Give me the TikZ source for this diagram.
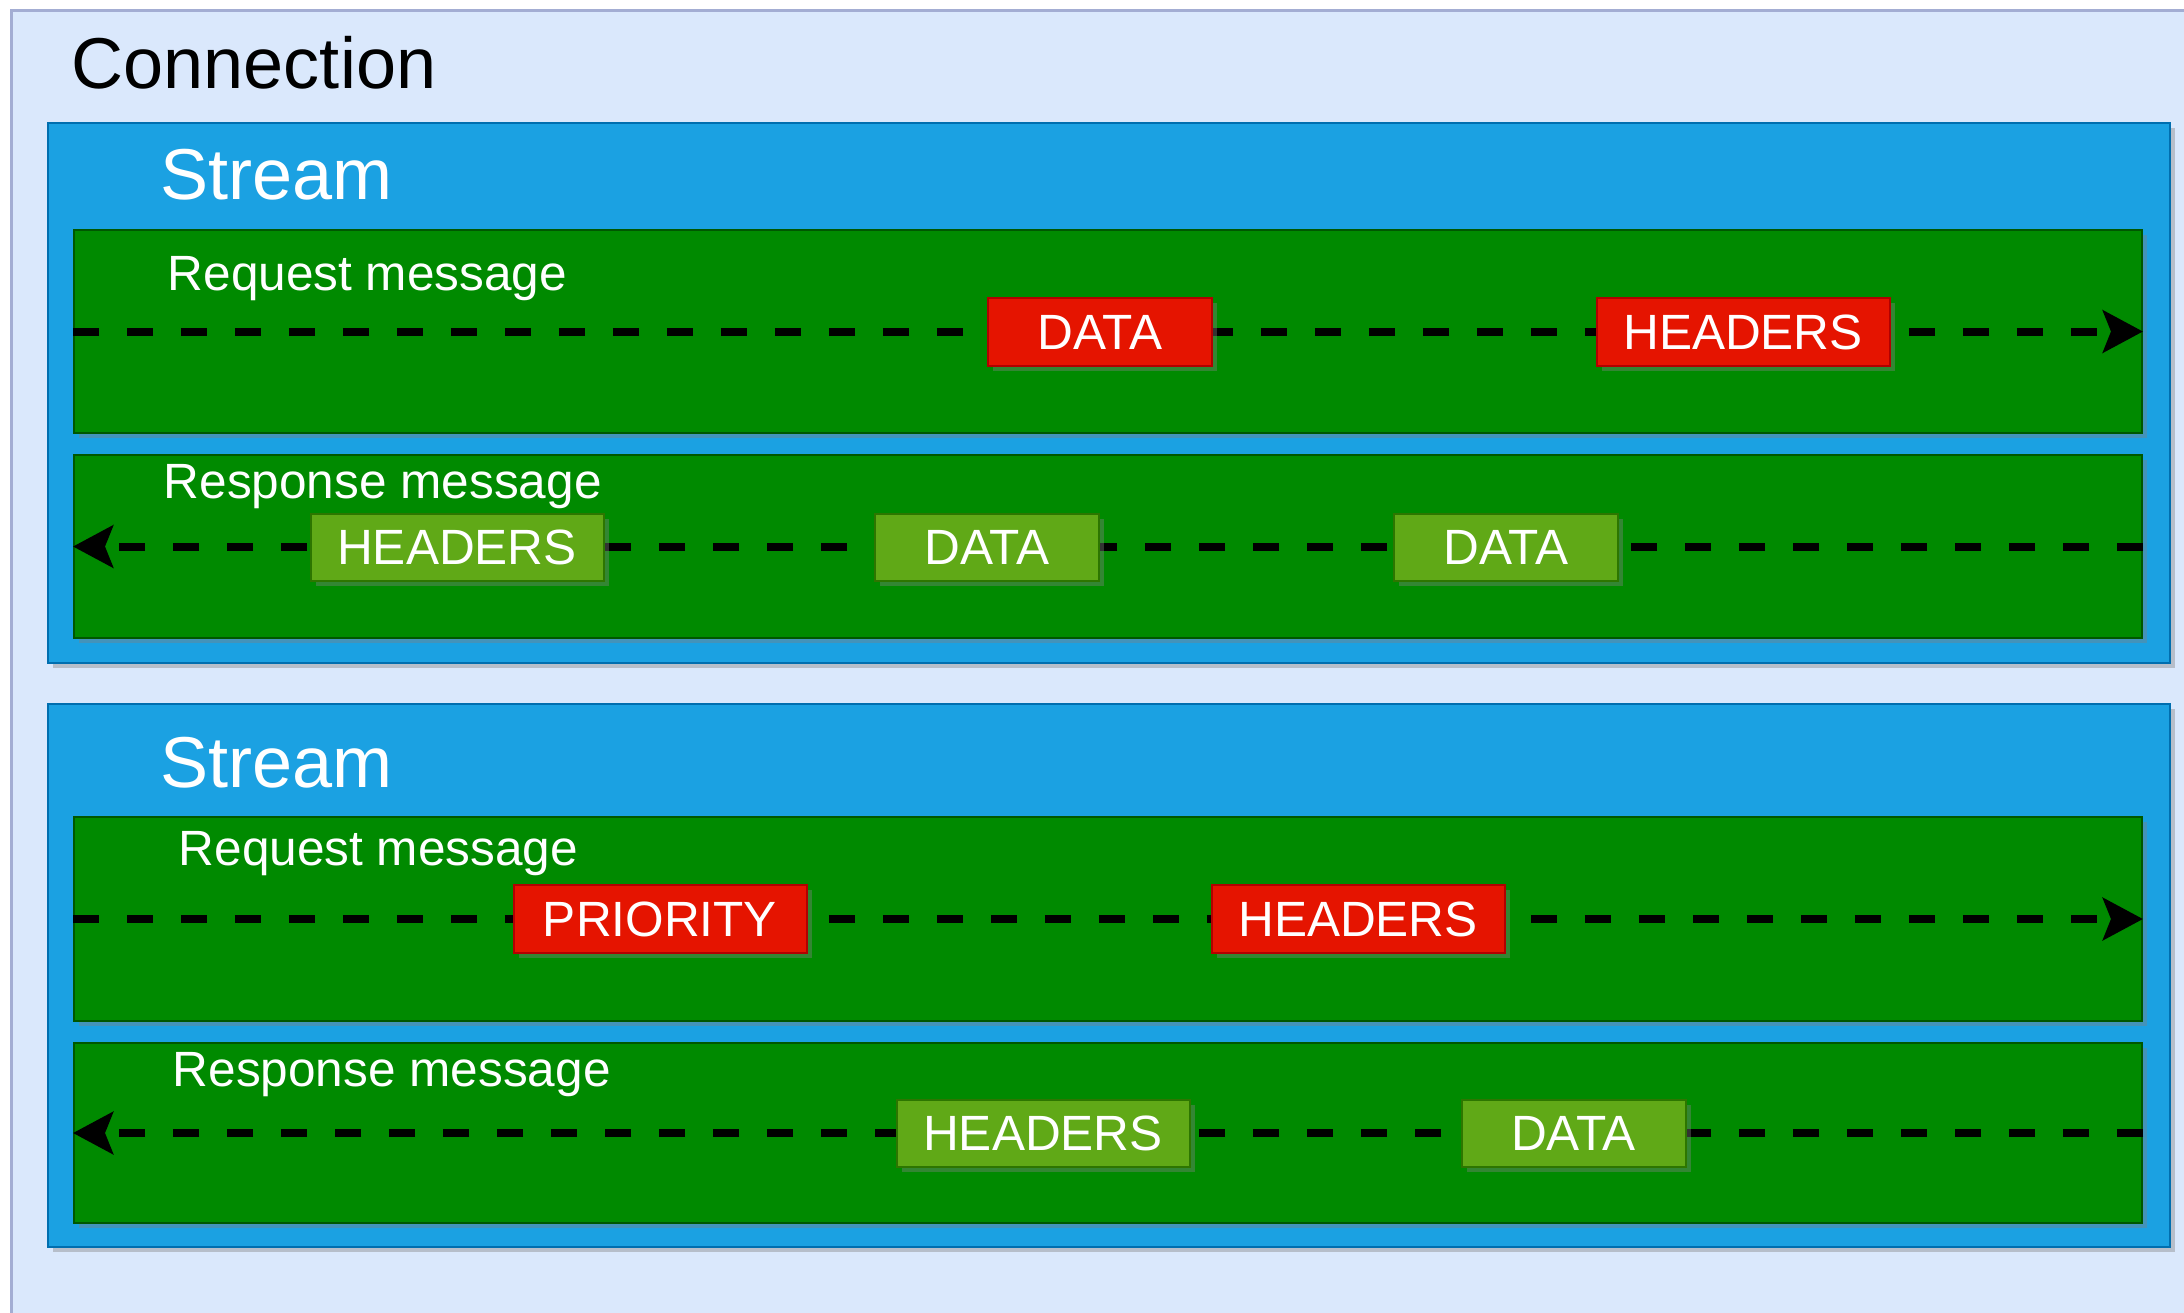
\documentclass[tikz,border=0pt]{standalone}
\usepackage{fontspec}
\setmainfont{Liberation Sans}
\usetikzlibrary{arrows.meta,positioning,shadows}

\definecolor{connfill}{HTML}{DAE8FC}
\definecolor{connline}{HTML}{A3ADD3}
\definecolor{streamfill}{HTML}{1BA1E2}
\definecolor{streamline}{HTML}{006EAF}
\definecolor{msgfill}{HTML}{008A00}
\definecolor{msgline}{HTML}{005700}
\definecolor{redfill}{HTML}{E51400}
\definecolor{redline}{HTML}{B20000}
\definecolor{limefill}{HTML}{60A917}
\definecolor{limeline}{HTML}{2D7600}

\newcommand{\bigtitlefont}{\fontsize{20.5pt}{24pt}\selectfont}
\newcommand{\msgtextfont}{\fontsize{14.1pt}{17pt}\selectfont}

\begin{document}
\begin{tikzpicture}[
    shade box/.style={drop shadow={shadow xshift=0.05cm, shadow yshift=-0.05cm, opacity=0.4}},
    connbox/.style={rectangle, draw=connline, line width=0.03cm, fill=connfill, minimum width=22.28cm, minimum height=13.5cm},
    streambox/.style={rectangle, draw=streamline, line width=0.02cm, fill=streamfill, minimum width=21.22cm, shade box},
    msgbox/.style={rectangle, draw=msgline, line width=0.02cm, fill=msgfill, minimum width=20.68cm, shade box},
    reqframe/.style={rectangle, draw=redline, line width=0.02cm, fill=redfill, minimum height=0.68cm, text=white, font=\msgtextfont, shade box},
    respframe/.style={rectangle, draw=limeline, line width=0.02cm, fill=limefill, minimum height=0.67cm, text=white, font=\msgtextfont, shade box},
    dataw/.style={minimum width=2.24cm},
    hdrw/.style={minimum width=2.93cm},
    headtext/.style={anchor=base west, inner sep=0pt, font=\bigtitlefont},
    msgtext/.style={anchor=base west, inner sep=0pt, font=\msgtextfont, text=white},
    flow/.style={line width=0.08cm, dash pattern=on 0.26cm off 0.28cm, -{Stealth[length=0.40cm, width=0.42cm, inset=0.08cm]}}
    ]
    \useasboundingbox (0,0) rectangle (21.84,-13.12);
    \clip (0,0) rectangle (21.84,-13.12);

    % connection
    \node[connbox] (conn) at (11.26,-6.85) {};
    \node[headtext] (conntitle) at (0.71,-0.88) {Connection};

    % first stream
    \node[streambox, minimum height=5.40cm] (stream1) at (11.09,-3.93) {};
    \node[headtext, text=white] (stream1title) at (1.60,-1.99) {Stream};
    \node[msgbox, minimum height=2.03cm] (req1) at (11.08,-3.315) {};
    \node[msgtext] (req1title) at (1.67,-2.90) {Request message};
    \node[msgbox, minimum height=1.83cm] (resp1) at (11.08,-5.465) {};
    \node[msgtext] (resp1title) at (1.63,-4.98) {Response message};

    \draw[flow] (req1.west) -- (req1.east);
    \draw[flow] (resp1.east) -- (resp1.west);

    \node[reqframe, dataw] (req1data) at (11.00,-3.32) {DATA};
    \node[reqframe, hdrw] (req1hdr) at (17.43,-3.32) {HEADERS};
    \node[respframe, hdrw] (resp1hdr) at (4.57,-5.47) {HEADERS};
    \node[respframe, dataw] (resp1dataa) at (9.87,-5.47) {DATA};
    \node[respframe, dataw] (resp1datab) at (15.06,-5.47) {DATA};

    % second stream
    \node[streambox, minimum height=5.43cm] (stream2) at (11.09,-9.755) {};
    \node[headtext, text=white] (stream2title) at (1.60,-7.87) {Stream};
    \node[msgbox, minimum height=2.04cm] (req2) at (11.08,-9.19) {};
    \node[msgtext] (req2title) at (1.78,-8.65) {Request message};
    \node[msgbox, minimum height=1.80cm] (resp2) at (11.08,-11.33) {};
    \node[msgtext] (resp2title) at (1.72,-10.86) {Response message};

    \draw[flow] (req2.west) -- (req2.east);
    \draw[flow] (resp2.east) -- (resp2.west);

    \node[reqframe, hdrw] (req2prio) at (6.60,-9.19) {PRIORITY};
    \node[reqframe, hdrw] (req2hdr) at (13.58,-9.19) {HEADERS};
    \node[respframe, hdrw] (resp2hdr) at (10.43,-11.33) {HEADERS};
    \node[respframe, dataw] (resp2data) at (15.735,-11.33) {DATA};
  \end{tikzpicture}
\end{document}
